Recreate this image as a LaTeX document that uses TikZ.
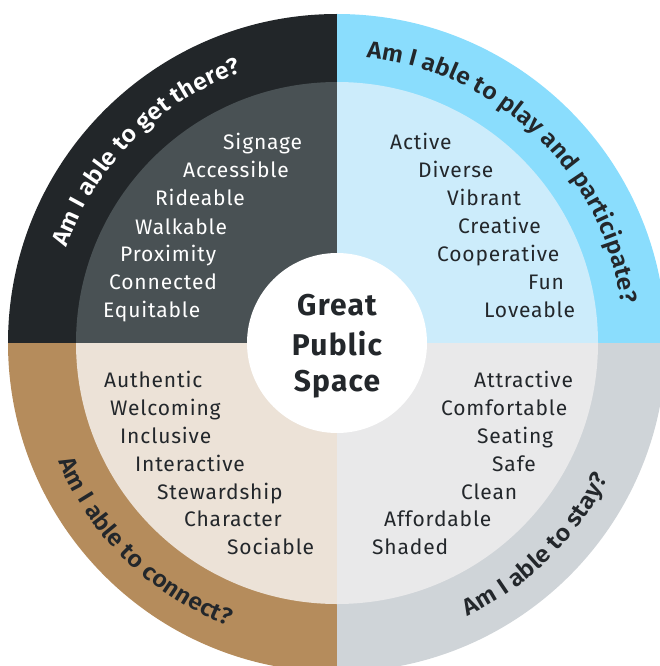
\documentclass[tikz,border=0pt]{standalone}
\usepackage{fontspec}
\usetikzlibrary{decorations.text,calc}
\newfontfamily\wordfont{Fira Sans}[LetterSpace=4]
\newfontfamily\centerfont{Fira Sans}[LetterSpace=4]
\IfFontExistsTF{Fira Sans SemiBold}{\newfontfamily\arcfam{Fira Sans SemiBold}[FakeStretch=1.06]}{\newfontfamily\arcfam{Fira Sans}[UprightFont=*,BoldFont=*,FakeStretch=1.06]}
\definecolor{tlo}{HTML}{222629}
\definecolor{tli}{HTML}{495154}
\definecolor{tro}{HTML}{8ADDFD}
\definecolor{tri}{HTML}{CCECFB}
\definecolor{blo}{HTML}{B58C5C}
\definecolor{bli}{HTML}{ECE2D7}
\definecolor{bro}{HTML}{CFD4D8}
\definecolor{bri}{HTML}{E9E9EA}
\definecolor{ink}{HTML}{23272B}
\tikzset{
  word/.style={anchor=base west, inner sep=0pt, font=\wordfont\fontsize{21}{25}\selectfont, text=ink},
  wordw/.style={word, text=white},
  title/.style={anchor=base, inner sep=0pt, font=\centerfont\bfseries\fontsize{30}{36}\selectfont, text=ink},
}
\begin{document}
\begin{tikzpicture}[x=1pt,y=1pt]
\useasboundingbox (0,0) rectangle (660,-666);
\clip (0,0) rectangle (660,-666);
\coordinate (C) at (337,-343);
% outer ring sectors
\fill[tlo] (C) -- ++(90:329) arc[start angle=90,end angle=180,radius=329] -- cycle;
\fill[tro] (C) -- ++(0:329) arc[start angle=0,end angle=90,radius=329] -- cycle;
\fill[blo] (C) -- ++(180:329) arc[start angle=180,end angle=270,radius=329] -- cycle;
\fill[bro] (C) -- ++(270:329) arc[start angle=270,end angle=360,radius=329] -- cycle;
% inner sectors
\fill[tli] (C) -- ++(90:261) arc[start angle=90,end angle=180,radius=261] -- cycle;
\fill[tri] (C) -- ++(0:261) arc[start angle=0,end angle=90,radius=261] -- cycle;
\fill[bli] (C) -- ++(180:261) arc[start angle=180,end angle=270,radius=261] -- cycle;
\fill[bri] (C) -- ++(270:261) arc[start angle=270,end angle=360,radius=261] -- cycle;
% centre
\fill[white] (C) circle[radius=90];
\node[title] (g1) at (337,-315) {Great};
\node[title] (g2) at (337,-355) {Public};
\node[title] (g3) at (337,-391) {Space};
% arc texts
\path[decorate, decoration={text along path, text align=center,
  text={|\arcfam\fontsize{23.5}{28}\selectfont\color{white}|Am I able to get there?}}]
  ($(C)+(175:287)$) arc[start angle=175,end angle=95,radius=287];
\path[decorate, decoration={text along path, text align=center,
  text={|\arcfam\fontsize{23.5}{28}\selectfont\color{ink}|Am I able to play and participate?}}]
  ($(C)+(96:287)$) arc[start angle=96,end angle=-4,radius=287];
\path[decorate, decoration={text along path, text align=center,
  text={|\arcfam\fontsize{23.5}{28}\selectfont\color{ink}|Am I able to connect?}}]
  ($(C)+(191:303)$) arc[start angle=191,end angle=261,radius=303];
\path[decorate, decoration={text along path, text align=center,
  text={|\arcfam\fontsize{23.5}{28}\selectfont\color{ink}|Am I able to stay?}}]
  ($(C)+(279:303)$) arc[start angle=279,end angle=350,radius=303];
% top-left words
\node[wordw] (a1) at (223,-149) {Signage};
\node[wordw] (a2) at (183,-177) {Accessible};
\node[wordw] (a3) at (155,-205) {Rideable};
\node[wordw] (a4) at (135,-234) {Walkable};
\node[wordw] (a5) at (120,-261) {Proximity};
\node[wordw] (a6) at (109,-289) {Connected};
\node[wordw] (a7) at (103,-317) {Equitable};
% top-right words
\node[word] (b1) at (390,-149) {Active};
\node[word] (b2) at (418,-177) {Diverse};
\node[word] (b3) at (447,-205) {Vibrant};
\node[word] (b4) at (458,-233) {Creative};
\node[word] (b5) at (437,-261) {Cooperative};
\node[word] (b6) at (528,-289) {Fun};
\node[word] (b7) at (484,-317) {Loveable};
% bottom-left words
\node[word] (c1) at (104,-387) {Authentic};
\node[word] (c2) at (110,-415) {Welcoming};
\node[word] (c3) at (120,-443) {Inclusive};
\node[word] (c4) at (135,-471) {Interactive};
\node[word] (c5) at (157,-499) {Stewardship};
\node[word] (c6) at (184,-526) {Character};
\node[word] (c7) at (227,-554) {Sociable};
% bottom-right words
\node[word] (d1) at (474,-387) {Attractive};
\node[word] (d2) at (441,-415) {Comfortable};
\node[word] (d3) at (477,-443) {Seating};
\node[word] (d4) at (492,-471) {Safe};
\node[word] (d5) at (461,-499) {Clean};
\node[word] (d6) at (384,-526) {Affordable};
\node[word] (d7) at (372,-554) {Shaded};
\end{tikzpicture}
\end{document}
